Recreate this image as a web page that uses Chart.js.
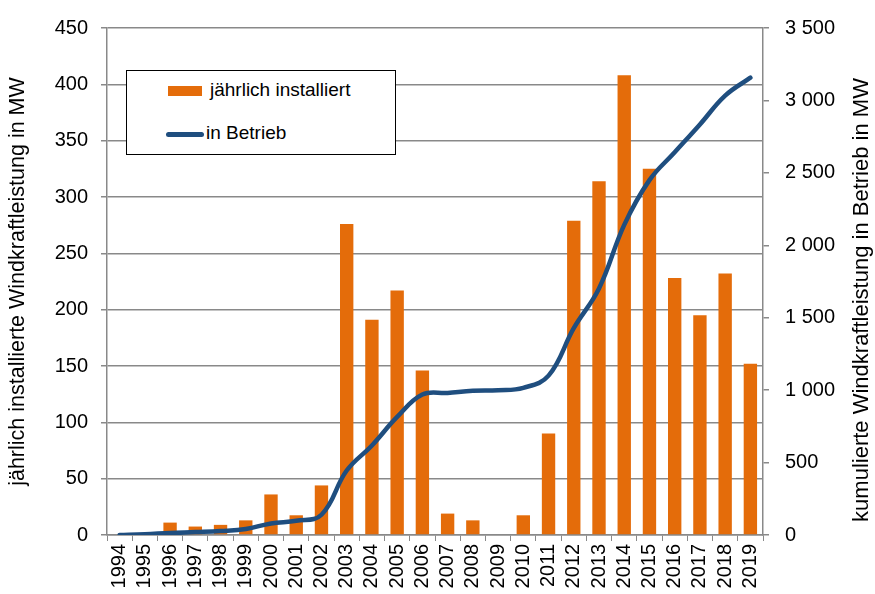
<!DOCTYPE html>
<html lang="de">
<head>
  <meta charset="UTF-8" />
  <title>Windkraftleistung</title>
  <script src="https://cdn.jsdelivr.net/npm/chart.js"></script>
  <style>
    body {
      margin: 0;
      padding: 0;
      background: white;
      font-family: "Liberation Sans", Arial, sans-serif;
    }

    .wrap {
      position: relative;
      width: 875px;
      height: 594px;
    }

    .legend {
      position: absolute;
      left: 126px;
      top: 70px;
      width: 268px;
      height: 83px;
      background: white;
      border: 1.5px solid #000;
      font-size: 19px;
      color: #000;
    }

    .legend .item {
      position: absolute;
      white-space: nowrap;
    }

    .swatch-bar {
      position: absolute;
      width: 34px;
      height: 10px;
      background: #E46C0A;
    }

    .swatch-line {
      position: absolute;
      width: 38px;
      height: 5px;
      border-radius: 3px;
      background: #1F4E7F;
    }
  </style>
</head>
<body>
  <div class="wrap">
    <canvas id="windChart" width="875" height="594"></canvas>
    <div class="legend">
      <span class="swatch-bar" style="left: 41px; top: 15px;"></span>
      <span class="item" style="left: 83px; top: 8px;">jährlich installiert</span>
      <span class="swatch-line" style="left: 39px; top: 61px;"></span>
      <span class="item" style="left: 79px; top: 51px;">in Betrieb</span>
    </div>
  </div>

  <script>
    const years = ['1994', '1995', '1996', '1997', '1998', '1999', '2000', '2001', '2002',
      '2003', '2004', '2005', '2006', '2007', '2008', '2009', '2010', '2011', '2012',
      '2013', '2014', '2015', '2016', '2017', '2018', '2019'];

    // jährlich neu installierte Leistung (MW)
    const installed = [0, 0, 11, 7.5, 9, 13, 36, 17.5, 44, 276, 191, 217, 146, 19, 13,
      0, 17.5, 90, 279, 314, 408, 325, 228, 195, 232, 152];

    // kumulierte Leistung in Betrieb (MW)
    const inOperation = [0, 5, 14, 20, 27, 41, 80, 98, 140, 445, 618, 815, 970, 981, 995,
      999, 1016, 1100, 1428, 1702, 2141, 2450, 2642, 2834, 3033, 3157];

    const leftTicks = { min: 0, max: 450, step: 50 };
    const rightTicks = { min: 0, max: 3500, step: 500 };

    const leftTitle = 'jährlich installierte Windkraftleistung in MW';
    const rightTitle = 'kumulierte Windkraftleistung in Betrieb in MW';

    const gridGrey = '#898989';
    const fontFamily = '"Liberation Sans", Arial, sans-serif';
    const font = { family: fontFamily, size: 20 };

    // 3500 -> "3 500"
    const spaced = v => String(v).replace(/\B(?=(\d{3})+(?!\d))/g, ' ');

    // right axis title, read bottom to top like the left one
    const rightTitlePlugin = {
      id: 'rightTitle',
      afterDraw(chart) {
        const { ctx } = chart;
        const scale = chart.scales.y1;
        ctx.save();
        ctx.translate(scale.right - 13, 300);
        ctx.rotate(-Math.PI / 2);
        ctx.font = '22px ' + fontFamily;
        ctx.fillStyle = '#000';
        ctx.textAlign = 'center';
        ctx.textBaseline = 'middle';
        ctx.fillText(rightTitle, 0, 0);
        ctx.restore();
      }
    };

    new Chart(document.getElementById('windChart'), {
      data: {
        labels: years,
        datasets: [
          {
            type: 'line',
            label: 'in Betrieb',
            data: inOperation,
            yAxisID: 'y1',
            borderColor: '#1F4E7F',
            borderWidth: 4.5,
            pointRadius: 0,
            tension: 0.4,
            borderCapStyle: 'round',
            order: 0
          },
          {
            type: 'bar',
            label: 'jährlich installiert',
            data: installed,
            yAxisID: 'y',
            backgroundColor: '#E46C0A',
            barPercentage: 0.53,
            categoryPercentage: 1,
            order: 1
          }
        ]
      },
      options: {
        responsive: false,
        animation: false,
        layout: { padding: { top: 25, left: 0, right: 0, bottom: 0 } },
        plugins: {
          legend: { display: false },
          tooltip: { enabled: false }
        },
        scales: {
          x: {
            offset: true,
            grid: {
              offset: true,
              drawOnChartArea: false,
              color: gridGrey,
              tickLength: 6
            },
            border: { color: gridGrey, width: 1.5 },
            ticks: {
              color: '#000',
              font: font,
              padding: 3,
              minRotation: 90,
              maxRotation: 90,
              autoSkip: false
            },
            afterFit: s => { s.height = 59; }
          },
          y: {
            position: 'left',
            min: leftTicks.min,
            max: leftTicks.max,
            ticks: {
              stepSize: leftTicks.step,
              color: '#000',
              font: font,
              padding: 13
            },
            grid: { color: gridGrey, lineWidth: 1.5, tickLength: 6 },
            border: { color: gridGrey, width: 1.5 },
            title: {
              display: true,
              text: leftTitle,
              color: '#000',
              font: { family: fontFamily, size: 21.5 },
              padding: { top: 5, bottom: 0 }
            },
            afterFit: s => { s.width = 107; }
          },
          y1: {
            position: 'right',
            min: rightTicks.min,
            max: rightTicks.max,
            ticks: {
              stepSize: rightTicks.step,
              color: '#000',
              font: font,
              padding: 16,
              callback: v => spaced(v)
            },
            grid: { drawOnChartArea: false, color: gridGrey, lineWidth: 1.5, tickLength: 6 },
            border: { color: gridGrey, width: 1.5 },
            afterFit: s => { s.width = 112; }
          }
        }
      },
      plugins: [rightTitlePlugin]
    });
  </script>
</body>
</html>
